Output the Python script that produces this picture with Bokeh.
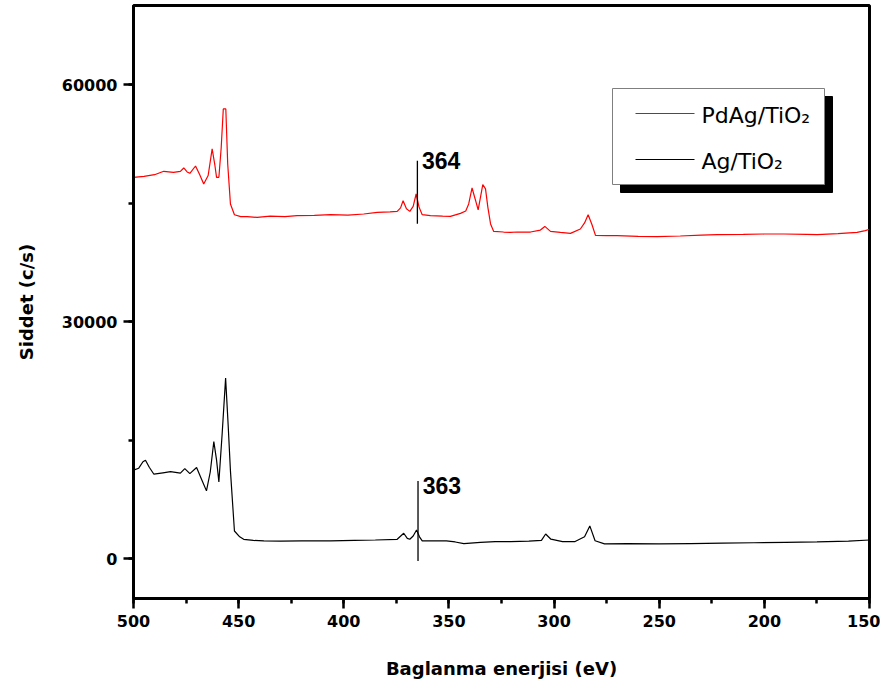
from bokeh.plotting import figure
from bokeh.models import Range1d, SingleIntervalTicker
from bokeh.core.properties import value
from bokeh.embed import file_html
from bokeh.resources import INLINE

# ---------------- data ----------------
red_x = [500, 495, 490, 485.6, 481, 477.7, 476.1, 474.5, 473.2, 470.5, 468.5, 466.6, 464.5,
         462.6, 461.3, 460.5, 459.4, 458.3, 457.3, 456.1, 455.2, 453.9, 452, 449, 445.9, 441.2,
         435, 428, 422.2, 414, 406.3, 398, 390.5, 384.1, 378, 374.6, 373, 371.8, 370.2, 368.6,
         367, 365.6, 364.2, 362.7, 358.8, 353, 349.3, 344.5, 342, 340.6, 339, 337.5, 336.1,
         333.9, 332.6, 331.5, 330.2, 328.7, 324, 320.7, 317.5, 311.2, 306.5, 304.4, 301.7, 297,
         292.2, 287.5, 285.5, 283.8, 282, 280.3, 275, 270, 260, 251, 240, 230, 222.5, 210, 200,
         190.8, 180, 174.9, 165, 155.9, 152, 150]
red_y = [48270, 48400, 48600, 49030, 48900, 49030, 49450, 48950, 48780, 49700, 48600, 47430, 48500,
         51860, 49800, 48270, 48270, 52000, 56920, 56920, 49960, 44900, 43540, 43300, 43290, 43200,
         43350, 43300, 43420, 43450, 43540, 43500, 43630, 43840, 43900, 43960, 44400, 45310, 44300, 43960,
         44600, 46160, 44500, 43540, 43420, 43350, 43330, 43710, 44000, 44900, 46920, 45500, 44140,
         47340, 46800, 44500, 42370, 41430, 41350, 41300, 41350, 41350, 41600, 42060, 41430, 41300,
         41180, 41730, 42500, 43540, 42300, 40930, 40900, 40890, 40800, 40760, 40850, 40950, 41010, 41050, 41100,
         41100, 41050, 41010, 41150, 41300, 41520, 41700]

black_x = [500, 497.5, 495.5, 494.3, 492.5, 490.3, 486, 482.4, 477.7, 475.6, 473.2, 470, 467.5,
           465.3, 463.5, 461.8, 460.5, 459.4, 457.8, 456.2, 455, 453.9, 452, 449.5, 447.6, 443,
           438, 430, 420, 406.3, 395, 385, 374.6, 371.5, 369.8, 368.6, 367, 365.4, 364, 362.7,
           357, 351.2, 347, 342.9, 335, 328, 320.7, 312, 306, 304, 301.5, 296, 290, 285.5, 283,
           280.5, 276, 265, 250, 235, 220, 205, 190, 175, 160, 150]
black_y = [11230, 11480, 12300, 12490, 11600, 10720, 10900, 11050, 10850, 11430, 10800, 11560, 10000,
           8610, 11000, 14850, 12500, 9750, 16000, 22870, 17000, 11140, 3540, 2800, 2490, 2350,
           2280, 2250, 2300, 2280, 2350, 2400, 2490, 3250, 2600, 2490, 2900, 3670, 2800, 2280,
           2300, 2280, 2150, 1940, 2100, 2200, 2190, 2250, 2350, 3160, 2500, 2200, 2200, 2800, 4180,
           2300, 1900, 1950, 1900, 1950, 2000, 2050, 2100, 2150, 2250, 2400]

series_names = ["PdAg/TiO₂", "Ag/TiO₂"]
series_colors = ["#ff0000", "#000000"]

# peak markers: position (eV), label, line bottom, line top (counts)
mark_x = [365.0, 364.7]
mark_labels = ["364", "363"]
mark_y0 = [42400, -250]
mark_y1 = [50380, 9870]
mark_text_y = [50380, 9240]

x_start, x_end = 500, 150
y_start, y_end = -5000, 70000

# ---------------- figure ----------------
W, H = 880, 685
BL, BR, BT, BB = 133, 11, 5, 87
p = figure(width=W, height=H, output_backend="svg", toolbar_location=None,
           x_range=Range1d(x_start, x_end), y_range=Range1d(y_start, y_end),
           min_border_left=BL, min_border_right=BR, min_border_top=BT, min_border_bottom=BB)
p.grid.visible = False
p.outline_line_color = "black"
p.outline_line_width = 3
p.background_fill_color = "white"
p.border_fill_color = "white"

p.xaxis.ticker = SingleIntervalTicker(interval=50, num_minor_ticks=2)
p.yaxis.ticker = SingleIntervalTicker(interval=30000, num_minor_ticks=2)
for ax in (p.xaxis, p.yaxis):
    ax.axis_line_width = 3
    ax.axis_line_color = "black"
    ax.major_tick_line_width = 2.5
    ax.minor_tick_line_width = 2.5
    ax.major_tick_out = 10
    ax.major_tick_in = 0
    ax.minor_tick_out = 5
    ax.minor_tick_in = 0
    ax.major_label_text_font = "DejaVu Sans"
    ax.major_label_text_font_style = "bold"
    ax.major_label_text_font_size = "16px"
    ax.major_label_text_color = "black"
    ax.axis_label_text_font = "DejaVu Sans"
    ax.axis_label_text_font_style = "bold"
    ax.axis_label_text_font_size = "18px"
    ax.axis_label_text_color = "black"
p.xaxis.major_label_standoff = 6
p.yaxis.major_label_standoff = 6
p.xaxis.axis_label = "Baglanma enerjisi (eV)"
p.yaxis.axis_label = "Siddet (c/s)"
p.xaxis.axis_label_standoff = 28
p.yaxis.axis_label_standoff = 22

# spectra
p.line(red_x, red_y, line_color=series_colors[0], line_width=1.2)
p.line(black_x, black_y, line_color=series_colors[1], line_width=1.2)

# peak markers
p.segment(x0=mark_x, y0=mark_y0, x1=mark_x, y1=mark_y1, line_color="black", line_width=1.3)
p.text(x=[m - 2.2 for m in mark_x], y=mark_text_y, text=mark_labels,
       text_font=value("Liberation Sans"), text_font_style="bold", text_font_size="23px",
       text_baseline="alphabetic", text_align="left", text_color="black")

# ---------------- legend (drawn by hand, with a drop shadow) ----------------
frame_w = W - BL - BR
frame_h = H - BT - BB
def px_x(dx):  # pixel offset from frame left -> data x
    return x_start + (x_end - x_start) * dx / frame_w
def px_y(dy):  # pixel offset from frame top -> data y
    return y_end - (y_end - y_start) * dy / frame_h

lg_l, lg_t, lg_w, lg_h, sh = 479, 83, 212, 96, 8
p.quad(left=[px_x(lg_l + sh)], right=[px_x(lg_l + lg_w + sh)],
       top=[px_y(lg_t + sh)], bottom=[px_y(lg_t + lg_h + sh)],
       fill_color="black", line_color="black")
p.quad(left=[px_x(lg_l)], right=[px_x(lg_l + lg_w)],
       top=[px_y(lg_t)], bottom=[px_y(lg_t + lg_h)],
       fill_color="white", line_color="#7f7f7f", line_width=1)
row_y = [25, 71]
for i in range(2):
    yy = px_y(lg_t + row_y[i])
    p.line([px_x(lg_l + 23), px_x(lg_l + 82)], [yy, yy], line_color=series_colors[i], line_width=1.2)
    p.text(x=[px_x(lg_l + 89)], y=[px_y(lg_t + row_y[i] + 2)], text=[series_names[i]],
           text_font=value("DejaVu Sans"), text_font_size="22px",
           text_baseline="middle", text_align="left", text_color="black")

open("out.html", "w").write(file_html(p, INLINE))
